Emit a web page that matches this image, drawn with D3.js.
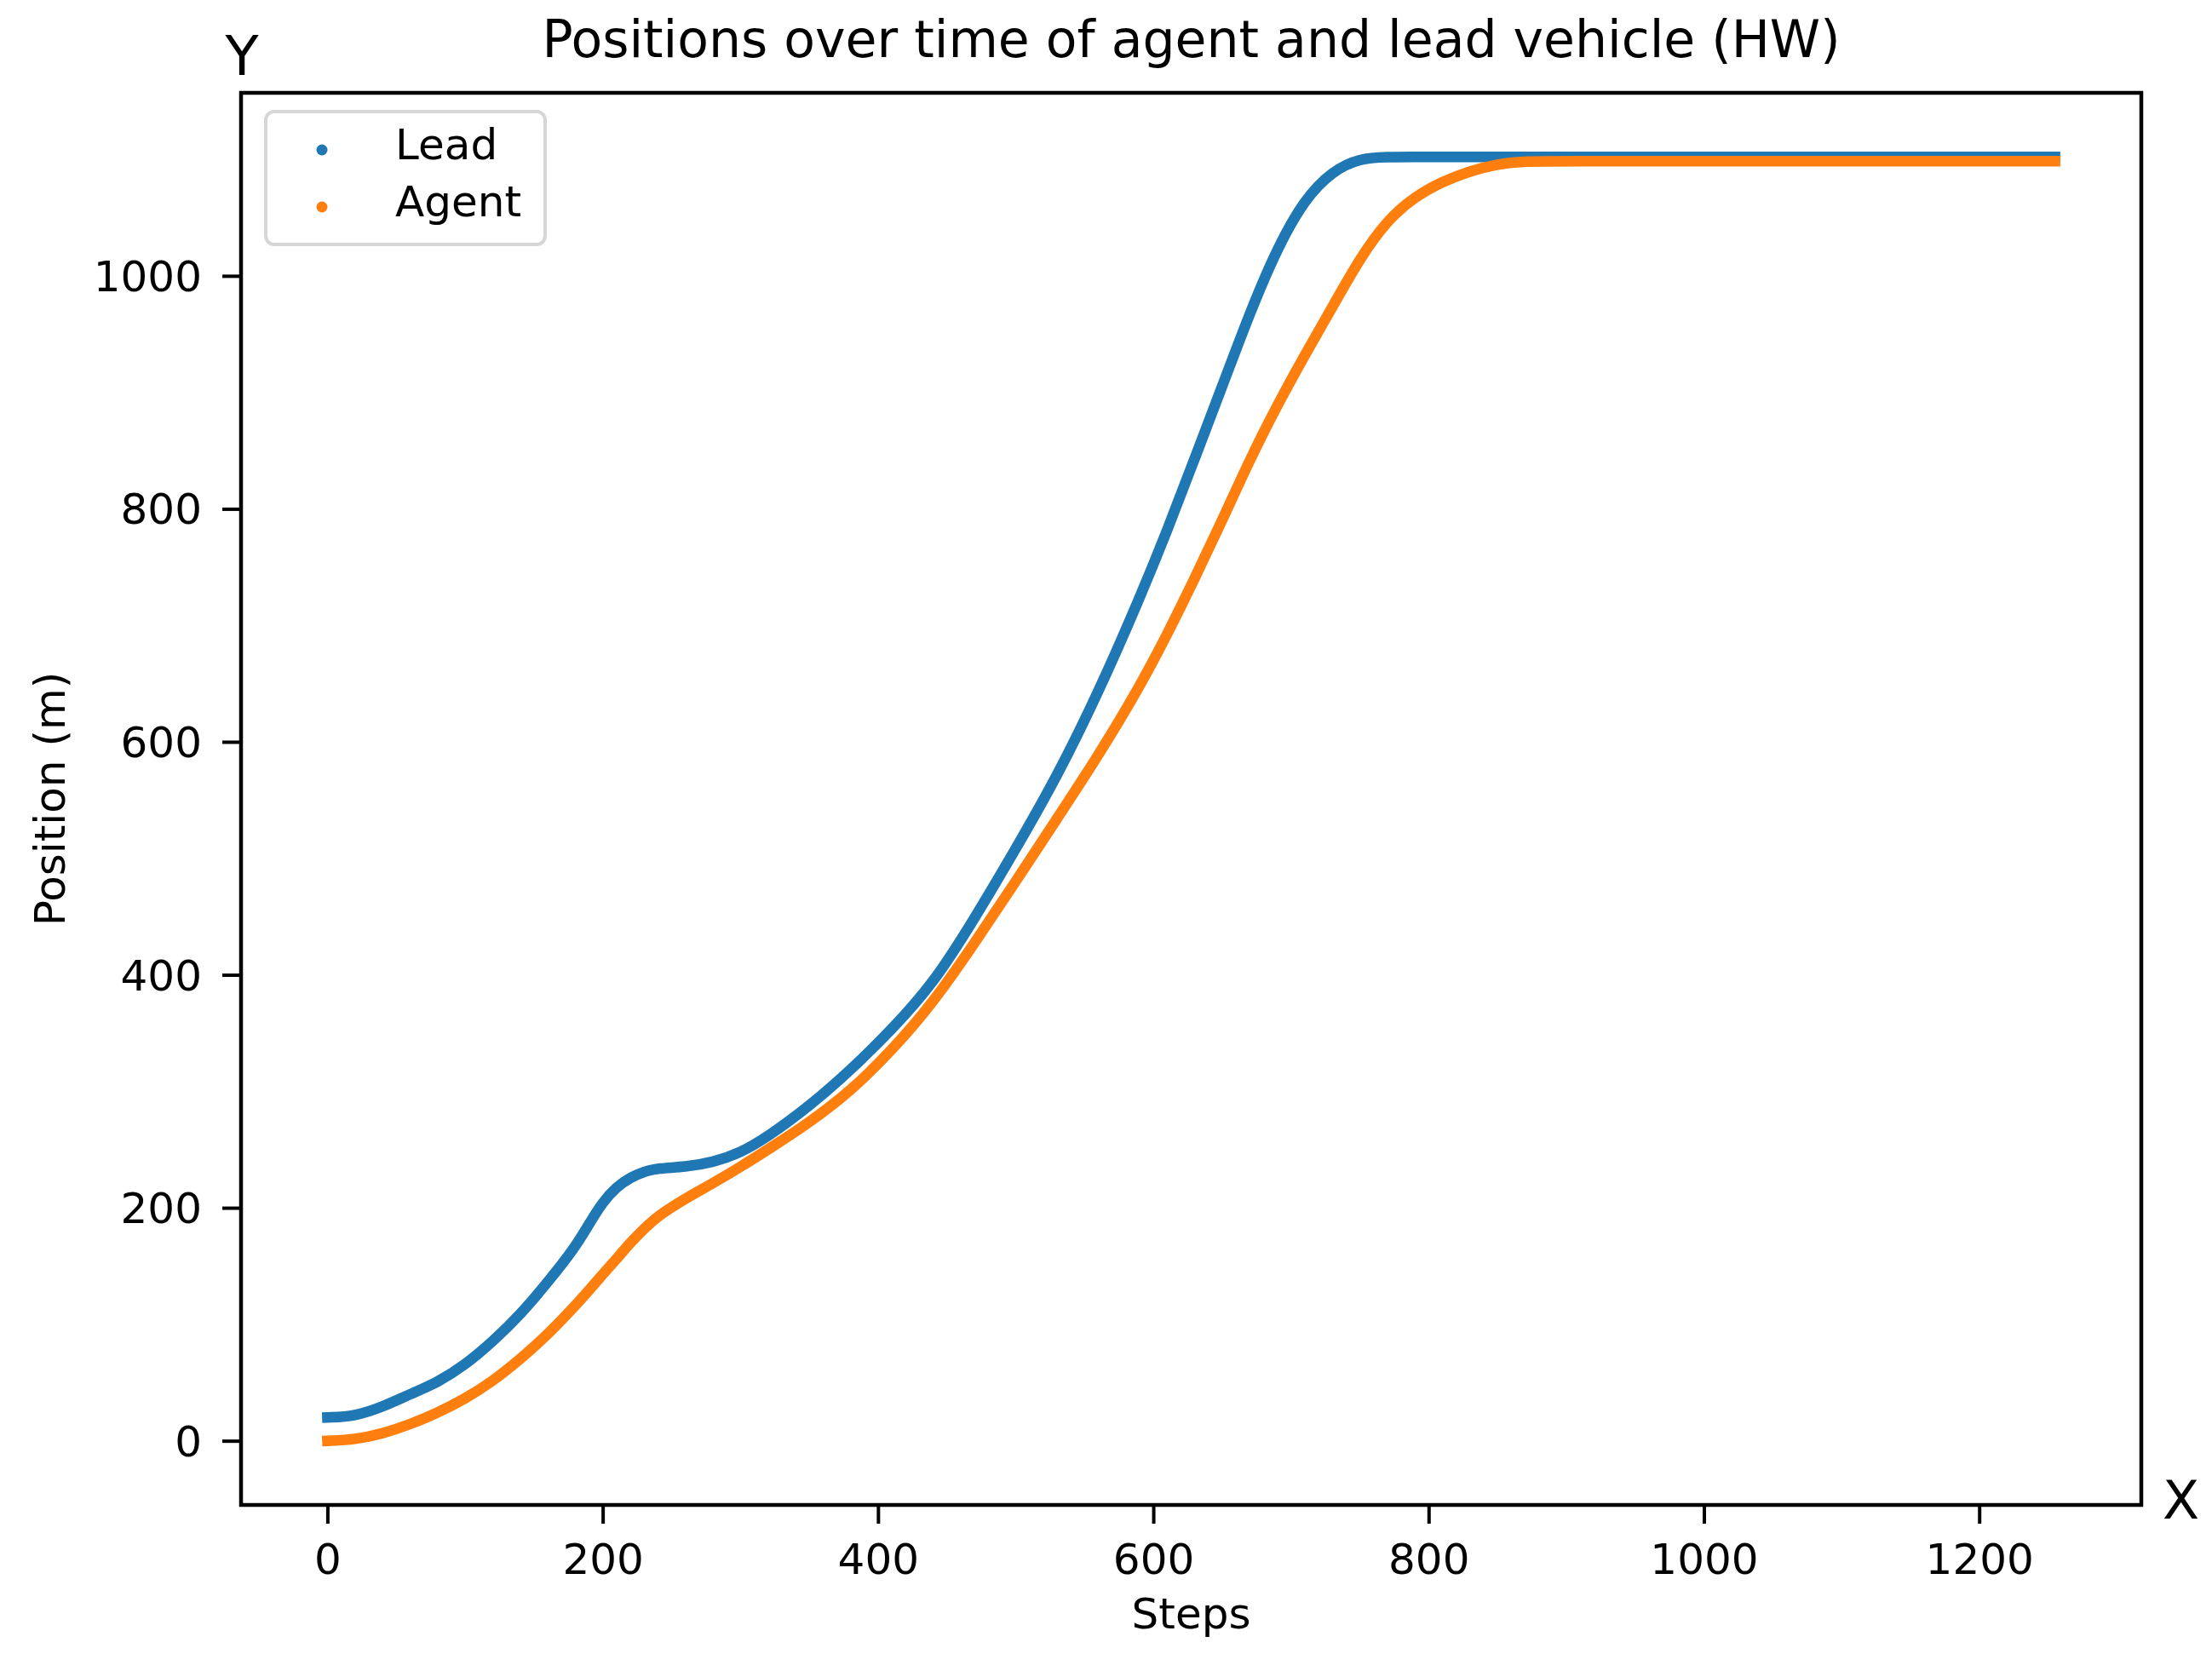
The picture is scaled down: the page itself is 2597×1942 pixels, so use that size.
<!DOCTYPE html>
<html>
<head>
<meta charset="utf-8">
<script src="https://cdn.jsdelivr.net/npm/d3@7"></script>
<style>
  html, body { margin: 0; padding: 0; background: #ffffff; }
  svg { display: block; }
  text { font-family: "DejaVu Sans", sans-serif; fill: #000; }
</style>
</head>
<body>
<svg id="chart" width="2597" height="1942"></svg>
<script>
// ---- data ----
const steps = [0, 20, 40, 60, 80, 100, 120, 140, 160, 180, 190, 200, 210, 220, 230, 240, 260, 280, 300, 320, 350, 380, 410, 440, 470, 500, 530, 560, 590, 610, 630, 650, 670, 690, 710, 730, 750, 770, 790, 810, 830, 850, 870, 900, 1000, 1100, 1200, 1255];
const leadPos = [20, 21, 29, 40, 50, 65, 85, 108, 136, 166, 186, 205, 218, 226, 231, 234, 235, 239, 247, 261, 287, 318, 353, 392, 448, 508, 570, 642, 723, 781, 843, 905, 968, 1024, 1066, 1090, 1101, 1102, 1102, 1102, 1102, 1102, 1102, 1102, 1102, 1102, 1102, 1102];
const agentPos = [0, 1, 6, 14, 24, 36, 51, 70, 91, 116, 129, 143, 156, 170, 182, 193, 208, 221, 235, 250, 273, 300, 335, 376, 427, 480, 534, 588, 647, 692, 740, 790, 842, 889, 932, 973, 1015, 1048, 1068, 1081, 1090, 1096, 1098.5, 1098.5, 1098.5, 1098.5, 1098.5, 1098.5];
const seriesNames = ["Lead", "Agent"];
const seriesColors = ["#1f77b4", "#ff7f0e"];
const xTicks = [0, 200, 400, 600, 800, 1000, 1200];
const yTicks = [0, 200, 400, 600, 800, 1000];
const titleText = "Positions over time of agent and lead vehicle (HW)";
const xLabel = "Steps";
const yLabel = "Position (m)";

// ---- layout ----
const frame = { left: 283, right: 2514, top: 109, bottom: 1767 };
const svg = d3.select("#chart");

const xExt = d3.extent(steps);
const xPad = (xExt[1] - xExt[0]) * 0.05;
const allY = leadPos.concat(agentPos);
const yExt = d3.extent(allY);
const yPad = (yExt[1] - yExt[0]) * 0.05;

const x = d3.scaleLinear().domain([xExt[0] - xPad, xExt[1] + xPad]).range([frame.left, frame.right]);
const y = d3.scaleLinear().domain([yExt[0] - yPad, yExt[1] + yPad]).range([frame.bottom, frame.top]);

// clip
svg.append("defs").append("clipPath").attr("id", "clip")
  .append("rect").attr("x", frame.left).attr("y", frame.top)
  .attr("width", frame.right - frame.left).attr("height", frame.bottom - frame.top);

// series
const series = [leadPos, agentPos];
const line = d3.line().x((d, i) => x(steps[i])).y(d => y(d)).curve(d3.curveBasis);
const gSeries = svg.append("g").attr("clip-path", "url(#clip)");
series.forEach((vals, k) => {
  gSeries.append("path")
    .datum(vals)
    .attr("d", line)
    .attr("fill", "none")
    .attr("stroke", seriesColors[k])
    .attr("stroke-width", 12.5)
    .attr("stroke-linecap", "square")
    .attr("stroke-linejoin", "round");
});

// axes
const tickFont = 50;
const xAxis = d3.axisBottom(x).tickValues(xTicks).tickSize(22).tickPadding(14).tickFormat(d3.format("d"));
const gx = svg.append("g").attr("transform", `translate(0,${frame.bottom})`).call(xAxis);
gx.select(".domain").remove();
gx.selectAll(".tick line").attr("stroke", "#000").attr("stroke-width", 4);
gx.selectAll(".tick text").attr("font-size", tickFont).attr("font-family", "DejaVu Sans").attr("fill", "#000")
  .attr("dy", null).attr("y", 81);

const yAxis = d3.axisLeft(y).tickValues(yTicks).tickSize(22).tickPadding(24).tickFormat(d3.format("d"));
const gy = svg.append("g").attr("transform", `translate(${frame.left},0)`).call(yAxis);
gy.select(".domain").remove();
gy.selectAll(".tick line").attr("stroke", "#000").attr("stroke-width", 4);
gy.selectAll(".tick text").attr("font-size", tickFont).attr("font-family", "DejaVu Sans").attr("fill", "#000")
  .attr("dy", "0.35em").attr("x", -46);

// frame
svg.append("rect")
  .attr("x", frame.left).attr("y", frame.top)
  .attr("width", frame.right - frame.left).attr("height", frame.bottom - frame.top)
  .attr("fill", "none").attr("stroke", "#000").attr("stroke-width", 4.5);

// title and labels
svg.append("text").attr("x", (frame.left + frame.right) / 2).attr("y", 67)
  .attr("text-anchor", "middle").attr("font-size", 60).text(titleText);
svg.append("text").attr("x", (frame.left + frame.right) / 2).attr("y", 1912)
  .attr("text-anchor", "middle").attr("font-size", 50).text(xLabel);
svg.append("text").attr("transform", `translate(76,${(frame.top + frame.bottom) / 2}) rotate(-90)`)
  .attr("text-anchor", "middle").attr("font-size", 50).text(yLabel);
svg.append("text").attr("x", 284).attr("y", 88).attr("text-anchor", "middle").attr("font-size", 64).text("Y");
svg.append("text").attr("x", 2539).attr("y", 1783).attr("text-anchor", "start").attr("font-size", 63).text("X");

// legend
const lg = svg.append("g");
lg.append("rect").attr("x", 312).attr("y", 131).attr("width", 328).attr("height", 156)
  .attr("rx", 10).attr("ry", 10)
  .attr("fill", "#ffffff").attr("fill-opacity", 0.8)
  .attr("stroke", "#d6d6d6").attr("stroke-width", 4);
seriesNames.forEach((name, k) => {
  const cy = 176 + k * 67;
  lg.append("circle").attr("cx", 378).attr("cy", cy).attr("r", 6.5).attr("fill", seriesColors[k]);
  lg.append("text").attr("x", 464).attr("y", cy + 11).attr("font-size", 50).text(name);
});
</script>
</body>
</html>
